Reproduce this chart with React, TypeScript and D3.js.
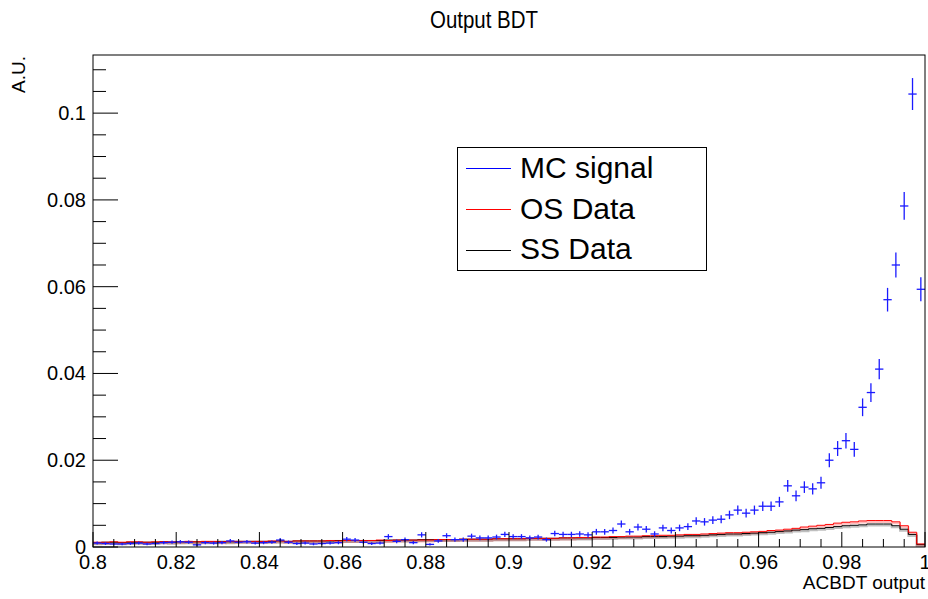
import React from "react";
import * as d3 from "d3";

const X_MIN = 0.8;
const X_MAX = 1.0;
const N_BINS = 100;
const Y_MAX = 0.1134;
const MC_ERR_SCALE = 0.0114; // Poisson-like error normalisation

const mcSignal = [
  0.0009, 0.0008, 0.0007, 0.0007, 0.0008, 0.0009, 0.0007, 0.0008, 0.0010, 0.0011,
  0.0012, 0.0011, 0.0005, 0.0010, 0.0009, 0.0010, 0.0014, 0.0011, 0.0012, 0.0009,
  0.0010, 0.0011, 0.0016, 0.0011, 0.0008, 0.0009, 0.0007, 0.0008, 0.0009, 0.0010,
  0.0018, 0.0016, 0.0011, 0.0008, 0.0009, 0.0024, 0.0013, 0.0017, 0.0010, 0.0028,
  0.0006, 0.0014, 0.0026, 0.0017, 0.0017, 0.0025, 0.0021, 0.0021, 0.0023, 0.0029,
  0.0024, 0.0024, 0.0021, 0.0023, 0.0017, 0.0031, 0.0029, 0.0029, 0.0030, 0.0028,
  0.0035, 0.0035, 0.0038, 0.0053, 0.0035, 0.0046, 0.0041, 0.0030, 0.0044, 0.0038,
  0.0044, 0.0047, 0.0060, 0.0058, 0.0062, 0.0064, 0.0074, 0.0085, 0.0078, 0.0085,
  0.0094, 0.0094, 0.0104, 0.0141, 0.0118, 0.0138, 0.0134, 0.0148, 0.0200, 0.0227,
  0.0245, 0.0225, 0.0322, 0.0356, 0.0410, 0.0570, 0.0650, 0.0786, 0.1044, 0.0594,
];

const osData = [
  0.0011, 0.0011, 0.0012, 0.0011, 0.0012, 0.0012, 0.0011, 0.0012, 0.0012, 0.0012,
  0.0012, 0.0013, 0.0012, 0.0013, 0.0013, 0.0012, 0.0013, 0.0013, 0.0013, 0.0013,
  0.0013, 0.0014, 0.0014, 0.0013, 0.0014, 0.0014, 0.0014, 0.0014, 0.0015, 0.0014,
  0.0015, 0.0015, 0.0015, 0.0015, 0.0016, 0.0015, 0.0016, 0.0016, 0.0016, 0.0016,
  0.0016, 0.0017, 0.0017, 0.0017, 0.0018, 0.0018, 0.0018, 0.0018, 0.0019, 0.0019,
  0.0019, 0.0019, 0.0020, 0.0020, 0.0020, 0.0020, 0.0021, 0.0021, 0.0022, 0.0022,
  0.0023, 0.0023, 0.0024, 0.0024, 0.0025, 0.0025, 0.0026, 0.0026, 0.0027, 0.0027,
  0.0028, 0.0029, 0.0029, 0.0030, 0.0031, 0.0032, 0.0033, 0.0033, 0.0034, 0.0035,
  0.0036, 0.0038, 0.0039, 0.0041, 0.0043, 0.0046, 0.0048, 0.0050, 0.0052, 0.0055,
  0.0057, 0.0058, 0.0060, 0.0061, 0.0061, 0.0061, 0.0058, 0.0049, 0.0034, 0.0007,
];

const ssData = [
  0.0010, 0.0011, 0.0011, 0.0010, 0.0011, 0.0011, 0.0011, 0.0011, 0.0012, 0.0011,
  0.0012, 0.0012, 0.0012, 0.0012, 0.0012, 0.0013, 0.0012, 0.0013, 0.0013, 0.0013,
  0.0013, 0.0013, 0.0014, 0.0013, 0.0014, 0.0014, 0.0014, 0.0014, 0.0014, 0.0015,
  0.0015, 0.0015, 0.0015, 0.0015, 0.0015, 0.0016, 0.0016, 0.0016, 0.0016, 0.0017,
  0.0017, 0.0017, 0.0017, 0.0017, 0.0018, 0.0018, 0.0018, 0.0018, 0.0019, 0.0019,
  0.0019, 0.0019, 0.0020, 0.0020, 0.0020, 0.0020, 0.0021, 0.0021, 0.0021, 0.0021,
  0.0022, 0.0022, 0.0022, 0.0023, 0.0023, 0.0023, 0.0024, 0.0024, 0.0024, 0.0025,
  0.0025, 0.0026, 0.0026, 0.0027, 0.0028, 0.0029, 0.0030, 0.0030, 0.0031, 0.0032,
  0.0033, 0.0034, 0.0036, 0.0037, 0.0039, 0.0040, 0.0042, 0.0043, 0.0045, 0.0047,
  0.0049, 0.0050, 0.0051, 0.0053, 0.0053, 0.0053, 0.0049, 0.0041, 0.0029, 0.0006,
];

const xTickValues = [0.8, 0.82, 0.84, 0.86, 0.88, 0.9, 0.92, 0.94, 0.96, 0.98, 1.0];
const xTickLabels = ["0.8", "0.82", "0.84", "0.86", "0.88", "0.9", "0.92", "0.94", "0.96", "0.98", "1"];
const yTickValues = [0, 0.02, 0.04, 0.06, 0.08, 0.1];
const yTickLabels = ["0", "0.02", "0.04", "0.06", "0.08", "0.1"];
const MINOR_STEP = 0.005;

const legendItems = [
  { label: "MC signal", color: "#0000ff" },
  { label: "OS Data", color: "#ff0000" },
  { label: "SS Data", color: "#000000" },
];

const W = 928;
const H = 599;
const FONT = "'Liberation Sans', Arial, Helvetica, sans-serif";

export default function App() {
  const left = 93, right = 925, top = 55, bottom = 547;
  const x = d3.scaleLinear().domain([X_MIN, X_MAX]).range([left, right]);
  const y = d3.scaleLinear().domain([0, Y_MAX]).range([bottom, top]);
  const bw = (X_MAX - X_MIN) / N_BINS;
  const edges = d3.range(N_BINS + 1).map((i) => X_MIN + i * bw);
  const centers = d3.range(N_BINS).map((i) => X_MIN + (i + 0.5) * bw);

  const stepLine = d3
    .line<[number, number]>()
    .x((d) => x(d[0]))
    .y((d) => y(d[1]))
    .curve(d3.curveStepAfter);
  const histPath = (vals: number[]) => {
    const pts: [number, number][] = vals.map((v, i) => [edges[i], v]);
    pts.push([edges[N_BINS], vals[N_BINS - 1]]);
    return stepLine(pts) || "";
  };

  const minorX = d3.range(0, Math.round((X_MAX - X_MIN) / MINOR_STEP) + 1).map((i) => X_MIN + i * MINOR_STEP);
  const minorY = d3.range(0, Math.floor(Y_MAX / MINOR_STEP) + 1).map((i) => i * MINOR_STEP);
  const isMajor = (v: number, list: number[]) => list.some((m) => Math.abs(m - v) < 1e-9);

  return (
    <svg
      width={W}
      height={H}
      style={{ position: "absolute", left: 0, top: 0, background: "#fff" }}
      fontFamily={FONT}
    >
      <rect x={0} y={0} width={W} height={H} fill="#fff" />
      {/* title */}
      <text x={484} y={28} fontSize={24} textAnchor="middle" fill="#000" textLength={108} lengthAdjust="spacingAndGlyphs">Output BDT</text>

      {/* histograms */}
      <path d={histPath(osData)} fill="none" stroke="#ff0000" strokeOpacity={0.25} strokeWidth={2} transform="translate(0,1.5)" />
      <path d={histPath(ssData)} fill="none" stroke="#000" strokeOpacity={0.25} strokeWidth={2} transform="translate(0,1.5)" />
      <path d={histPath(ssData)} fill="none" stroke="#000" strokeWidth={1} />
      <path d={histPath(osData)} fill="none" stroke="#ff0000" strokeWidth={1} />

      {/* MC signal points with error bars */}
      <g stroke="#1a1aff" strokeWidth={1.3}>
        {mcSignal.map((v, i) => {
          const err = MC_ERR_SCALE * Math.sqrt(v);
          const cx = x(centers[i]);
          return (
            <g key={i}>
              <line x1={x(edges[i])} x2={x(edges[i + 1])} y1={y(v)} y2={y(v)} />
              <line x1={cx} x2={cx} y1={y(v - err)} y2={y(v + err)} />
            </g>
          );
        })}
      </g>

      {/* frame */}
      <rect x={left} y={top} width={right - left} height={bottom - top} fill="none" stroke="#000" strokeWidth={1} />

      {/* ticks */}
      <g stroke="#000" strokeWidth={1}>
        {minorX.map((v, i) => {
          const major = isMajor(v, xTickValues);
          return <line key={i} x1={x(v)} x2={x(v)} y1={bottom} y2={bottom - (major ? 15 : 8)} />;
        })}
        {minorY.map((v, i) => {
          const major = isMajor(v, yTickValues);
          return <line key={i} x1={left} x2={left + (major ? 25 : 13)} y1={y(v)} y2={y(v)} />;
        })}
      </g>
      <g fontSize={20} fill="#000">
        {xTickValues.map((v, i) => (
          <text key={i} x={x(v)} y={569} textAnchor="middle">{xTickLabels[i]}</text>
        ))}
        {yTickValues.map((v, i) => (
          <text key={i} x={86} y={y(v) + 7} textAnchor="end">{yTickLabels[i]}</text>
        ))}
      </g>

      {/* axis titles */}
      <text x={925} y={589} fontSize={19} textAnchor="end" fill="#000">ACBDT output</text>
      <text transform="translate(25,56) rotate(-90)" fontSize={19} textAnchor="end" fill="#000">A.U.</text>

      {/* legend */}
      <rect x={457.5} y={147.5} width={249} height={123} fill="#fff" stroke="#000" strokeWidth={1} />
      {legendItems.map((it, i) => (
        <g key={i}>
          <line x1={466} x2={511} y1={168.5 + i * 41} y2={168.5 + i * 41} stroke={it.color} strokeWidth={1} />
          <text x={520} y={178 + i * 40.5} fontSize={30} fill="#000">{it.label}</text>
        </g>
      ))}
    </svg>
  );
}
